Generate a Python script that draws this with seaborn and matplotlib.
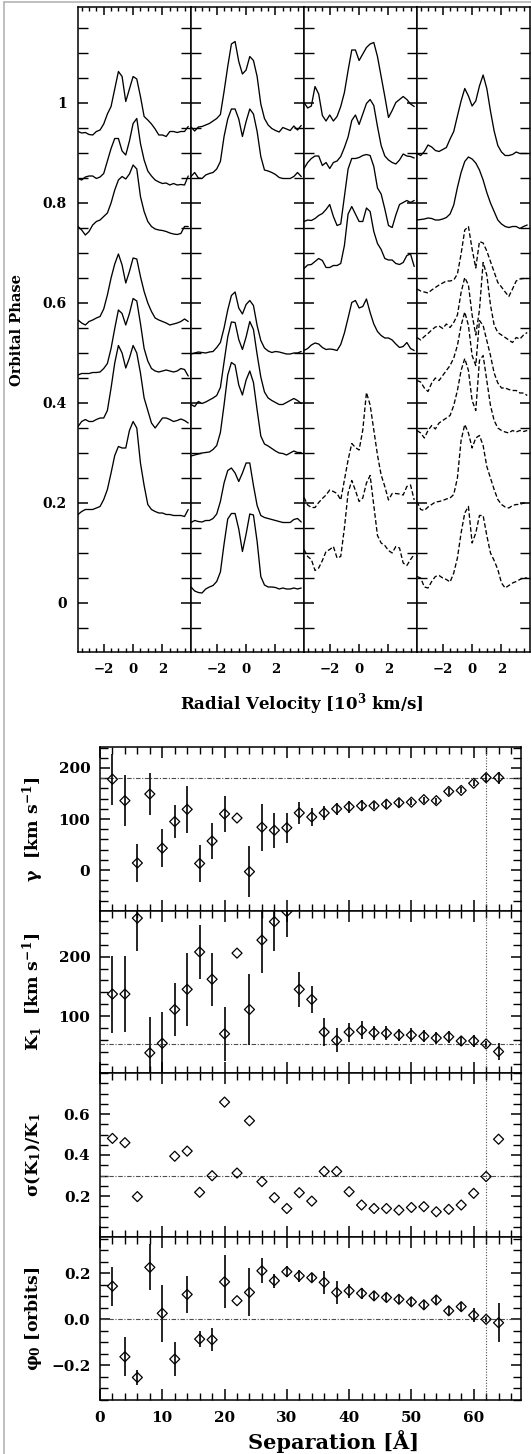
import matplotlib
matplotlib.use('Agg')
import matplotlib.pyplot as plt
from matplotlib.lines import Line2D
from matplotlib.ticker import MultipleLocator, FixedLocator, FixedFormatter
import numpy as np
import seaborn as sns

# ---------------- top: trailed line profiles ----------------
# velocity grid of the traced profiles [10^3 km/s]
vel = [-3.75, -3.5, -3.25, -3.0, -2.75, -2.5, -2.25, -2.0, -1.75, -1.5, -1.25,
       -1.0, -0.75, -0.5, -0.25, 0.0, 0.25, 0.5, 0.75, 1.0, 1.25, 1.5, 1.75,
       2.0, 2.25, 2.5, 2.75, 3.0, 3.25, 3.5, 3.75]

# profile heights above the baseline, in units of 0.01 orbital phase
p1_base = [0.943, 0.849, 0.753, 0.563, 0.459, 0.36, 0.18]
p1_dash = [False] * 7
p1_flux = [
    [0, -0.3, -0.2, -0.6, -0.7, 0, 0.3, 1.5, 3.5, 5, 8.5, 12, 11, 6, 8.5, 11, 10.5, 7, 3, 2.3, 1.5, 0.5, -0.7, -0.7, -1, 0, 0, -0.2, 0, 0, 1],
    [0, -0.3, 0.3, 0.5, 0.5, 0, 0.3, 1, 3.5, 6, 8, 8, 5.5, 4.7, 7.5, 11, 12, 7, 3.7, 1.5, 0.5, -0.3, -0.7, -1, -0.9, -1.3, -1, -1.3, -1.2, -1.3, 0.5],
    [0, -0.7, -1.7, -1, 0.3, 1, 1.3, 2, 2.7, 4.7, 7.3, 9.3, 10, 9.5, 10.5, 12.3, 11.5, 6, 3, 1, 0, -0.5, -0.7, -0.8, -1, -1.3, -1.5, -1.6, -1.4, 0, 0],
    [0.3, -0.3, -0.7, 0, 0.3, 0.7, 1, 2.5, 5.3, 8.7, 11.5, 13.5, 11.3, 7.7, 10, 12.7, 12.5, 9, 6, 3.7, 2, 0.7, 0.3, 0, -0.3, -0.7, -0.5, -0.3, 0, 0.5, 0],
    [-0.3, 0, 0, 0, 0.2, 0.2, 0.3, 1, 2, 5, 9, 12.7, 12, 9.7, 12, 15, 14.5, 10, 5, 2.5, 1, 0.5, 0.3, 0.5, 0.7, 0.5, 0.3, 0.5, 1, 0.8, -0.5],
    [-0.7, 0.3, 0.7, 0.3, 0.3, 0.7, 1, 1, 2.5, 7, 12, 15.5, 14, 11, 13, 15.5, 14, 10, 5, 2.5, 0, -1, 0, 1, 1, 0.7, 0.3, 0.5, 0.8, 0.5, 0],
    [-0.3, 0.3, 0.7, 0.7, 0.7, 1, 1.3, 2.7, 4.7, 8, 11.5, 13.3, 13, 13, 16.5, 18.3, 17, 10, 5.5, 1.7, 0.7, 0.3, 0, 0, -0.3, -0.3, -0.5, -0.5, -0.5, -0.7, 0.7],
]

p2_base = [0.948, 0.853, 0.50, 0.397, 0.296, 0.165, 0.028]
p2_dash = [False] * 7
p2_flux = [
    [0.4, -0.4, 0.4, 0.5, 0.8, 1.1, 1.6, 2.1, 2.9, 7.5, 12.5, 17, 17.5, 13.5, 11, 11.8, 14.5, 13.7, 10.5, 5, 2.1, 0.8, 0.1, -0.3, -0.6, 0.3, 0, -0.3, 0.6, -0.2, 0.7],
    [0, 0.8, -0.3, -0.4, 0.3, 0.6, 0.8, 1.5, 3, 8, 11.5, 13.5, 13.5, 11.5, 8, 11, 13.5, 12.5, 9, 4, 1.3, 1.1, 0.8, 0.4, -0.2, -0.4, -0.4, -0.4, 0, 0.8, 0],
    [-0.2, 0, 0.2, 0.1, 0, 0.2, 0.3, 1.1, 2.1, 5, 8.6, 11.5, 12.2, 9, 7.8, 9.7, 10.5, 9.5, 5.5, 2.5, 1, 0.4, 0.1, 0.3, 0.2, 0, -0.2, -0.2, 0, 0, 0.3],
    [0, -0.4, 0.6, 0.2, 0.5, 0.9, 1.3, 1.8, 3.4, 8.5, 13.5, 16.5, 16.4, 13, 11, 13.5, 16.6, 15, 10, 5.5, 2.5, 1.3, 0.8, 0.4, 0, 0, 0.4, 0.8, 1.2, 0.8, 0.2],
    [-0.2, 0, 0.2, 0.4, 0.5, 0.6, 1.1, 1.9, 4.5, 10, 16, 18.5, 18, 14, 12, 15, 16.8, 14.5, 9, 3.8, 2.2, 1.8, 1.3, 0.8, 0.4, 0.3, 0, 0.4, 0.8, 0.5, 0.5],
    [-0.4, 0, -0.2, -0.3, 0, 0, 0.4, 1.3, 3.8, 7.5, 10, 10.5, 9.5, 7.8, 9.5, 11.5, 11.5, 7, 3, 1, 0.6, 0.4, 0.2, 0, -0.2, -0.4, -0.4, -0.4, 0.2, 0.4, -0.3],
    [0.4, -0.4, -0.7, -0.8, 0, 0.4, 0.7, 1.5, 3.4, 9, 14, 15.1, 15.1, 12, 7.5, 11, 15, 14.8, 9.5, 2.5, 0.8, 0.4, 0.4, 0.3, 0, 0.2, 0, 0, 0.2, 0, 0.2],
]

p3_base = [0.993, 0.873, 0.763, 0.673, 0.505, 0.206, 0.10]
p3_dash = [False, False, False, False, False, True, True]
p3_flux = [
    [0.8, -0.3, 0.1, 4, 2.5, -1.8, -2.9, -1.7, -2.9, -2, 0, 2.8, 7.2, 11.3, 11.3, 9.2, 10.5, 11.8, 12.5, 12.8, 10, 6, 2, -2.2, -0.8, 0.8, 1.4, 2, 1.4, 0.5, 0],
    [-0.4, 0.8, 1.6, 2.1, 2.1, 0.2, 0.8, -0.4, 0.8, 1.1, 2, 3.8, 5.9, 9.2, 10.3, 8.4, 10.5, 12.6, 13.4, 12.2, 8, 4.2, 2.1, 1.3, 0.8, 0.5, 1.3, 2.5, 2.1, 2, 1.7],
    [0, 0.3, 0.2, 0.6, 1.2, 1.6, 2.4, 3.4, 1, -0.8, -0.5, 5, 10.5, 12.6, 12.6, 12.8, 13.2, 13.4, 13.2, 11, 6.7, 5.5, 2.5, -0.8, -1.2, 1.3, 3.4, 3.8, 4.2, 3.8, 4.2],
    [-0.4, 0.3, 0.4, 1, 1.6, 1.2, -0.2, -0.2, 0.2, 0.2, 0.6, 4.2, 10.5, 12, 10.5, 9, 9, 11.7, 11, 7, 4.6, 3.4, 1.6, 1.3, 1.3, 0.6, 0.4, 0.8, 2.2, 2.5, 0],
    [0, 0.4, 1.1, 1.5, 1.3, 0.6, 0.2, 0.3, 0.2, 0, 1.2, 3.5, 6.5, 9.6, 10, 8.5, 8.8, 10.3, 7.6, 5.3, 3.8, 3, 2.5, 2.5, 2.1, 1.3, 0.6, 0.8, 1.6, 0.4, 0],
    [0.5, -1, -1.5, -1.5, -0.5, 0.3, 1, 2, 1.7, 1.3, 0, 4, 8, 11.3, 10.5, 10, 14, 21.5, 19, 14, 9, 5, 2.7, 0, 1.3, 1.3, 1.2, 1, 2.7, 3, 0],
    [0.7, -0.7, -1.3, -3.5, -3, -1.5, 0.3, 0.7, 1.3, -1, -0.7, 5, 12, 14.5, 12.5, 10.3, 11, 14, 15.5, 9.5, 3.5, 2, 1.5, 0.5, 0, 1.3, 1, -2, -2.5, -1.3, -0.3],
]

p4_base = [0.899, 0.766, 0.628, 0.536, 0.445, 0.345, 0.2, 0.05]
p4_dash = [False, False, True, True, True, True, True, True]
p4_flux = [
    [0, -0.4, 0.4, 1.7, 1.3, 0.6, 0.4, 0.8, 1.2, 2.9, 4.4, 7.5, 10.5, 13, 11.5, 9.5, 10.5, 13.5, 15.7, 13, 8.5, 4.5, 1.6, 0.3, -0.4, -0.4, -0.2, 0.3, 0, 0, 0],
    [0, 0.1, 0.2, 0.4, 0.3, 0, 0, 0.2, 0.5, 1.2, 3, 6.5, 9.5, 11.7, 12.6, 12.2, 11.4, 10, 8, 5.5, 3.4, 1.7, 0, -0.8, -1.3, -1.5, -1.3, -1.3, -1.7, -1.3, -1],
    [0, -0.4, -0.6, -0.8, -0.2, 0.3, 0.8, 1.2, 1.6, 1.6, 1.8, 3, 7, 11.8, 12.5, 8, 4.2, 9.5, 9.2, 7.6, 5.5, 3.4, 1.3, 0.4, -0.6, -1.5, 0, 1.6, 2, 2.1, 2.1],
    [-0.5, -1, -0.3, 0.3, 1, 1.6, 1.8, 1.3, 2.2, 1.5, 2.5, 4, 8.5, 11.5, 10, 4, 0, 5, 14.5, 12, 6, 2, 0.5, 0, -0.5, -1, -1.5, -0.5, -0.8, 0, 0.5],
    [0, -0.3, -1.5, -2.2, -0.5, 0.5, 0, 1, 2, 3, 4.5, 7, 11, 13.7, 11, 5, 3, 12, 11, 8, 5, 1.5, -0.5, -1.5, -1.5, -1.8, -2, -2, -2.5, -2.5, -3],
    [0, -0.5, -1.5, 0, 1, 0.3, 1.5, 2, 2.5, 3, 5, 8, 12, 14.4, 12, 6, 4, 14, 15, 10, 5, 2, 0.5, 0, -0.3, -0.5, 0, -0.3, 0, -0.2, 0],
    [0.3, -1.3, -1.5, -0.8, -0.3, 0.2, 0.3, 0.5, 0.8, 1, 1.7, 5, 12.5, 15.7, 14, 11, 13, 13.5, 11.5, 7.3, 5, 2.7, 0.7, -0.3, -0.8, -1, -0.5, -0.3, -0.3, 0, 0],
    [0.3, 0, -1.8, -2, -0.7, 0.3, 0.5, 0, -0.3, -0.8, 1, 4, 9, 13, 14.3, 7, 9, 12.5, 12.5, 8.5, 5, 3.5, 1.7, -1, -2, -1.5, -1, -0.7, -0.3, 0, 0],
]

phase_ticks = [0, 0.2, 0.4, 0.6, 0.8, 1.0]
phase_labels = ['0', '0.2', '0.4', '0.6', '0.8', '1']
vel_ticks = [-2, 0, 2]
vel_labels = ['\u22122', '0', '2']

# ---------------- bottom: fitted parameters vs separation ----------------
sep = [2, 4, 6, 8, 10, 12, 14, 16, 18, 20, 22, 24, 26, 28, 30, 32,
       34, 36, 38, 40, 42, 44, 46, 48, 50, 52, 54, 56, 58, 60, 62, 64]
gamma = [178, 136, 14, 149, 43, 95, 119, 13, 57, 110, 102, -3, 84, 78, 83, 112,
         104, 112, 120, 124, 126, 126, 129, 132, 133, 138, 136, 154, 156, 170, 181, 181]
gamma_err = [50, 50, 38, 41, 37, 32, 46, 36, 36, 36, 0, 50, 46, 34, 29, 21,
             18, 13, 12, 12, 11, 7, 8, 8, 6, 6, 6, 6, 6, 6, 8, 12]
k1 = [137, 137, 265, 38, 54, 111, 145, 208, 162, 70, 206, 111, 228, 259, 276, 145,
      128, 73, 59, 73, 76, 72, 71, 68, 68, 66, 63, 65, 58, 58, 53, 40]
k1_err = [65, 64, 55, 60, 52, 44, 62, 46, 45, 45, 0, 60, 55, 50, 42, 30,
          23, 24, 20, 16, 15, 12, 12, 10, 12, 10, 10, 10, 8, 10, 5, 14]
sig_k1 = [0.481, 0.46, 0.197, np.nan, np.nan, 0.394, 0.419, 0.218, 0.299, 0.658, 0.312, 0.567,
          0.27, 0.192, 0.139, 0.216, 0.175, 0.32, 0.32, 0.221, 0.156, 0.139, 0.139, 0.131,
          0.144, 0.148, 0.123, 0.135, 0.156, 0.213, 0.295, 0.477]
phi0 = [0.143, -0.164, -0.254, 0.225, 0.025, -0.174, 0.107, -0.087, -0.09, 0.162, 0.08, 0.116,
        0.21, 0.167, 0.206, 0.188, 0.18, 0.16, 0.116, 0.123, 0.112, 0.101, 0.094, 0.086,
        0.075, 0.062, 0.083, 0.036, 0.054, 0.017, -0.001, -0.016]
phi0_err = [0.085, 0.085, 0.033, 0.1, 0.125, 0.073, 0.08, 0.033, 0.05, 0.115, 0, 0.104,
            0.055, 0.03, 0.025, 0.025, 0.02, 0.05, 0.05, 0.03, 0.025, 0.02, 0.02, 0.02,
            0.02, 0.02, 0.02, 0.02, 0.02, 0.03, 0.01, 0.085]

ref_sep = 62
ref_gamma, ref_k1, ref_sig, ref_phi = 180, 53, 0.3, 0.0

# ---------------- style ----------------
sns.set_theme(style='ticks')
plt.rcParams['font.family'] = ['DejaVu Serif']
plt.rcParams['font.weight'] = 'bold'
plt.rcParams['mathtext.fontset'] = 'dejavuserif'
plt.rcParams['mathtext.default'] = 'bf'
for key in ['text.color', 'axes.labelcolor', 'xtick.color', 'ytick.color', 'axes.edgecolor']:
    plt.rcParams[key] = 'black'
plt.rcParams['axes.linewidth'] = 1.1
plt.rcParams['xtick.major.width'] = 1.1
plt.rcParams['ytick.major.width'] = 1.1
plt.rcParams['xtick.minor.width'] = 1.0
plt.rcParams['ytick.minor.width'] = 1.0

W, H = 531, 1454
fig = plt.figure(figsize=(W / 100, H / 100), dpi=100)

# faint frame of the original screenshot
fig.add_artist(Line2D([4 / W, 4 / W], [0, 1 - 2 / H], transform=fig.transFigure, color='#b4b4b4', lw=1.2))
fig.add_artist(Line2D([4 / W, 1], [1 - 2 / H, 1 - 2 / H], transform=fig.transFigure, color='#b4b4b4', lw=1.2))

panels = [(p1_base, p1_flux, p1_dash), (p2_base, p2_flux, p2_dash),
          (p3_base, p3_flux, p3_dash), (p4_base, p4_flux, p4_dash)]

for i, (bases, fluxes, dashed) in enumerate(panels):
    ax = fig.add_axes([(78 + 113 * i) / W, 1 - 652 / H, 113 / W, 645 / H])
    for base, flux, dsh in zip(bases, fluxes, dashed):
        phase = [base + f / 100 for f in flux]
        sns.lineplot(x=vel, y=phase, ax=ax, color='black', lw=0.95,
                     linestyle=(0, (3.5, 1.8)) if dsh else '-',
                     estimator=None, sort=False)
    ax.set_xlim(-3.75, 3.94)
    ax.set_ylim(-0.098, 1.192)
    ax.xaxis.set_major_locator(FixedLocator(vel_ticks))
    ax.xaxis.set_major_formatter(FixedFormatter(vel_labels))
    ax.xaxis.set_minor_locator(MultipleLocator(0.5))
    ax.yaxis.set_major_locator(FixedLocator(phase_ticks))
    ax.yaxis.set_major_formatter(FixedFormatter(phase_labels))
    ax.yaxis.set_minor_locator(MultipleLocator(0.05))
    ax.tick_params(which='both', direction='in', top=True, right=True)
    ax.tick_params(axis='x', which='major', length=5.5, labelsize=9.5, pad=8)
    ax.tick_params(axis='x', which='minor', length=3)
    ax.tick_params(axis='y', which='both', length=7, labelsize=10, pad=8)
    ax.set_xlabel('')
    ax.set_ylabel('')
    if i > 0:
        ax.tick_params(axis='y', labelleft=False)

fig.text(17 / W, 1 - 330 / H, 'Orbital Phase', rotation=90, ha='center', va='center', fontsize=10.5)
fig.text(302 / W, 1 - 704 / H, 'Radial Velocity [10$^3$ km/s]', ha='center', va='center', fontsize=12)

# bottom stack
rows = [
    (747, 911, gamma, gamma_err, ref_gamma, (-80, 241), 20, [0, 100, 200], ['0', '100', '200'],
     r'$\gamma$  [km s$^{-1}$]'),
    (911, 1073, k1, k1_err, ref_k1, (4, 277), 20, [100, 200], ['100', '200'],
     r'K$_1$  [km s$^{-1}$]'),
    (1073, 1237, sig_k1, None, ref_sig, (0, 0.8), 0.05, [0.2, 0.4, 0.6], ['0.2', '0.4', '0.6'],
     r'$\sigma$(K$_1$)/K$_1$'),
    (1237, 1400, phi0, phi0_err, ref_phi, (-0.352, 0.357), 0.05, [-0.2, 0.0, 0.2],
     ['\u22120.2', '0.0', '0.2'], r'$\varphi_0$ [orbits]'),
]
for j, (y0, y1, vals, errs, ref, ylim, minor, yt, ytl, lab) in enumerate(rows):
    ax = fig.add_axes([100 / W, 1 - y1 / H, 421 / W, (y1 - y0) / H])
    ax.axhline(ref, color='0.3', lw=0.8, ls=(0, (4, 1.5, 1, 1.5)), zorder=1)
    ax.axvline(ref_sep, color='0.3', lw=0.8, ls=(0, (1, 1.5)), zorder=1)
    if errs is not None:
        ax.errorbar(sep, vals, yerr=errs, fmt='none', ecolor='black', elinewidth=1.2,
                    capsize=0, zorder=2)
    sns.scatterplot(x=sep, y=vals, ax=ax, marker='D', s=26, facecolor='none',
                    edgecolor='black', linewidth=0.9, zorder=3)
    ax.set_xlim(0, 67.6)
    ax.set_ylim(*ylim)
    ax.xaxis.set_major_locator(MultipleLocator(10))
    ax.xaxis.set_minor_locator(MultipleLocator(2))
    ax.yaxis.set_major_locator(FixedLocator(yt))
    ax.yaxis.set_major_formatter(FixedFormatter(ytl))
    ax.yaxis.set_minor_locator(MultipleLocator(minor))
    ax.tick_params(which='both', direction='in', top=True, right=True, labelsize=11)
    ax.tick_params(axis='x', which='major', length=8, pad=8)
    ax.tick_params(axis='x', which='minor', length=5)
    ax.tick_params(axis='y', which='major', length=7.5, pad=7)
    ax.tick_params(axis='y', which='minor', length=6)
    ax.set_xlabel('')
    ax.set_ylabel('')
    if j < 3:
        ax.tick_params(axis='x', labelbottom=False)
    fig.text(33 / W, 1 - (y0 + y1) / 2 / H, lab, rotation=90, ha='center', va='center', fontsize=12.5)

fig.text(334 / W, 1 - 1442 / H, 'Separation [\u00c5]', ha='center', va='center', fontsize=15)

fig.savefig('out.png', dpi=100, facecolor='white')
